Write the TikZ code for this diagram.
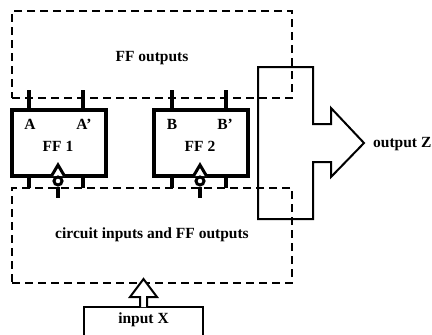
\documentclass[tikz,border=0pt]{standalone}
\usepackage{fontspec}
\setmainfont{Liberation Serif}
\tikzset{
  every node/.style={font=\fontsize{15.5}{18}\selectfont\bfseries, inner sep=0pt},
  ffbox/.style={rectangle, draw, line width=3.4pt, minimum width=94pt, minimum height=66pt},
  pin line/.style={line width=3.8pt},
  zone/.style={rectangle, draw, line width=2pt, dash pattern=on 8pt off 5pt, minimum width=280pt},
  block/.style={line width=2pt},
}
\begin{document}
\begin{tikzpicture}[x=1pt,y=-1pt]
\useasboundingbox (0,0) rectangle (432,335);
\node[zone, minimum height=87pt] (ffzone) at (152,54.5) {};
\node[zone, minimum height=95pt] (inzone) at (152,235.5) {};
\node[ffbox] (ffA) at (59,143) {};
\node[ffbox] (ffB) at (201,143) {};
\node (ffout) at (152,58) {FF outputs};
\node (inout) at (152,235) {circuit inputs and FF outputs};
\node (labA) at (30,124) {A};
\node (labAn) at (84,124) {A'};
\node (labF1) at (58,146) {FF 1};
\node (labB) at (172,124) {B};
\node (labBn) at (225,124) {B'};
\node (labF2) at (200,146) {FF 2};
\node[anchor=west] (labZ) at (373,144) {output Z};
% pins
\foreach \ff/\xa/\xb/\xc in {ffA/29/83/58, ffB/172/226/200}{
  \coordinate (\ff topa) at (\xa,90);
  \coordinate (\ff topb) at (\xb,90);
  \coordinate (\ff lowa) at (\xa,188);
  \coordinate (\ff lowb) at (\xb,188);
  \draw[pin line] (\ff topa) -- (\ff topa |- \ff.north);
  \draw[pin line] (\ff topb) -- (\ff topb |- \ff.north);
  \draw[pin line] (\ff lowa) -- (\ff lowa |- \ff.south);
  \draw[pin line] (\ff lowb) -- (\ff lowb |- \ff.south);
  % clock
  \draw[line width=3pt, fill=white] (\xc-6.5,176) -- (\xc,165) -- (\xc+6.5,176);
  \coordinate (\ff clkend) at (\xc,198);
  \node[circle, draw, line width=3pt, fill=white, minimum size=8pt] (\ff clk) at (\xc,181) {};
  \draw[pin line] (\ff clk) -- (\ff clkend);
}
% output block
\draw[block] (258,67) -- (313,67) -- (313,124) -- (331,124) -- (331,108) -- (364,143)
  -- (331,177) -- (331,162) -- (313,162) -- (313,219) -- (258,219) -- cycle;
% input
\node[rectangle, draw, line width=2pt, minimum width=119pt, minimum height=40pt] (inbox) at (143.5,327) {};
\node (labX) at (143.5,320) {input X};
\draw[block, fill=white] (140,307) -- (140,297) -- (130,297) -- (143.5,279) -- (157,297) -- (147,297) -- (147,307);
\end{tikzpicture}
\end{document}
